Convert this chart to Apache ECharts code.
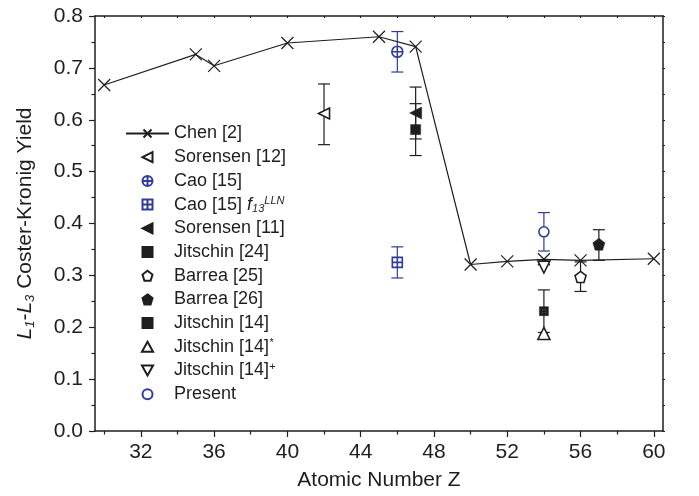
<!DOCTYPE html>
<html>
<head>
<meta charset="utf-8">
<script src="https://cdn.jsdelivr.net/npm/echarts@6/dist/echarts.min.js"></script>
<style>
  html, body { margin: 0; padding: 0; background: #fff; }
  #chart { width: 699px; height: 496px; }
</style>
</head>
<body>
<div id="chart"></div>
<script>
// data
const chenZ = [30, 35, 36, 40, 45, 47, 50, 52, 54, 56, 60]
const chenY = [0.667, 0.726, 0.704, 0.748, 0.760, 0.741, 0.321, 0.327, 0.331, 0.329, 0.332]

// [Z, value, low, high]
const sorensen12 = [[42, 0.612, 0.552, 0.669]]
const cao15 = [[46, 0.731, 0.692, 0.770]]
const cao15f13 = [[46, 0.325, 0.295, 0.355]]
const sorensen11 = [[47, 0.613, 0.563, 0.663]]
const jitschin24 = [[47, 0.581, 0.531, 0.631]]
const barrea25 = [[56, 0.297, 0.269, 0.326]]
const barrea26 = [[57, 0.360, 0.329, 0.388]]
const jitschin14 = [[54, 0.231, 0.190, 0.272]]
const jitschin14s = [[54, 0.188]]
const jitschin14p = [[54, 0.316]]
const present = [[54, 0.384, 0.347, 0.421]]

const xMajor = [32, 36, 40, 44, 48, 52, 56, 60]
const xMinor = [30, 34, 38, 42, 46, 50, 54, 58]
const xAll = [30, 32, 34, 36, 38, 40, 42, 44, 46, 48, 50, 52, 54, 56, 58, 60]

const BLACK = '#1e1e1e'
const BLUE = '#2f3c9c'
const FONT = 'Liberation Sans, Arial, sans-serif'

// symbols
const CROSS = 'path://M0,0L10,10M10,0L0,10'
const LEFT_TRI = 'path://M0,5L10,0L10,10Z'
const DOWN_TRI = 'path://M0,0L10,0L5,9Z'
const UP_TRI = 'path://M5,0L10,9L0,9Z'
const PENTA = 'path://M5,0L10,3.8L8.1,10L1.9,10L0,3.8Z'
const SQUARE = 'path://M0,0L10,0L10,10L0,10Z'
const CIRCLE_PLUS = 'path://M0,5A5,5,0,1,1,10,5A5,5,0,1,1,0,5ZM5,0L5,10M0,5L10,5'
const SQUARE_PLUS = 'path://M0,0L10,0L10,10L0,10ZM5,0L5,10M0,5L10,5'
const SQUARE_X = 'path://M0,0L10,0L10,10L0,10ZM3,3L3,4L4,4L4,3ZM6,3L6,4L7,4L7,3ZM3,6L3,7L4,7L4,6ZM6,6L6,7L7,7L7,6Z'

function pts(arr) {
  return arr.map(d => [d[0], d[1]])
}
function errs(arr) {
  return arr.filter(d => d.length > 2).map(d => [d[0], d[2], d[3]])
}

function renderErr(params, api) {
  const x = api.value(0)
  const lo = api.coord([x, api.value(1)])
  const hi = api.coord([x, api.value(2)])
  const w = 6
  const style = { stroke: api.visual('color'), lineWidth: 1.2 }
  return {
    type: 'group',
    children: [
      { type: 'line', shape: { x1: lo[0], y1: lo[1], x2: hi[0], y2: hi[1] }, style },
      { type: 'line', shape: { x1: lo[0] - w, y1: lo[1], x2: lo[0] + w, y2: lo[1] }, style },
      { type: 'line', shape: { x1: hi[0] - w, y1: hi[1], x2: hi[0] + w, y2: hi[1] }, style }
    ]
  }
}

function scatter(name, data, symbol, size, color, open) {
  return {
    name,
    type: 'scatter',
    data: pts(data),
    symbol,
    symbolSize: size,
    z: 5,
    itemStyle: open
      ? { color: '#fff', borderColor: color, borderWidth: 1.6, opacity: 1 }
      : { color: color, borderColor: color, borderWidth: 0.5, opacity: 1 }
  }
}

const blackErr = [].concat(errs(sorensen12), errs(sorensen11), errs(jitschin24),
  errs(barrea25), errs(barrea26), errs(jitschin14))
const blueErr = [].concat(errs(cao15), errs(cao15f13), errs(present))

const chart = echarts.init(document.getElementById('chart'))

const option = {
  animation: false,
  backgroundColor: '#fff',
  textStyle: { fontFamily: FONT },
  grid: { left: 95, right: 36, top: 16, bottom: 64 },
  legend: {
    orient: 'vertical',
    left: 120,
    top: 119,
    itemWidth: 43,
    itemHeight: 10,
    itemGap: 4.7,
    selectedMode: false,
    textStyle: {
      fontFamily: FONT,
      fontSize: 18,
      color: BLACK,
      lineHeight: 19,
      rich: {
        i: { fontFamily: FONT, fontSize: 18, fontStyle: 'italic', color: BLACK },
        sub: { fontFamily: FONT, fontSize: 11, fontStyle: 'italic', color: BLACK, verticalAlign: 'bottom', padding: [10, 0, 0, 0] },
        sup: { fontFamily: FONT, fontSize: 11, fontStyle: 'italic', color: BLACK, verticalAlign: 'top', padding: [0, 0, 10, 0] }
      }
    },
    formatter: function (name) {
      if (name === 'Cao [15] f13') return 'Cao [15] {i|f}{sub|13}{sup|LLN}'
      if (name === 'Jitschin [14]*') return 'Jitschin [14]{sup|*}'
      if (name === 'Jitschin [14]+') return 'Jitschin [14]{sup|+}'
      return name
    },
    data: ['Chen [2]', 'Sorensen [12]', 'Cao [15]', 'Cao [15] f13', 'Sorensen [11]',
      'Jitschin [24]', 'Barrea [25]', 'Barrea [26]', 'Jitschin [14]', 'Jitschin [14]*',
      'Jitschin [14]+', 'Present']
  },
  xAxis: [
    {
      type: 'value', min: 29.5, max: 60.5, position: 'bottom',
      name: 'Atomic Number Z', nameLocation: 'middle', nameGap: 39,
      nameTextStyle: { fontFamily: FONT, fontSize: 21, color: BLACK },
      axisLine: { onZero: false, lineStyle: { color: BLACK, width: 1.5 } },
      axisTick: { customValues: xMajor, length: 6, lineStyle: { color: BLACK, width: 1.2 } },
      axisLabel: { customValues: xMajor, fontFamily: FONT, fontSize: 21, color: BLACK, margin: 11 },
      splitLine: { show: false }
    },
    {
      type: 'value', min: 29.5, max: 60.5, position: 'bottom',
      axisLine: { show: false, onZero: false },
      axisTick: { customValues: xMinor, length: 3.5, lineStyle: { color: BLACK, width: 1.2 } },
      axisLabel: { show: false },
      splitLine: { show: false }
    },
    {
      type: 'value', min: 29.5, max: 60.5, position: 'top',
      axisLine: { onZero: false, lineStyle: { color: BLACK, width: 1.5 } },
      axisTick: { customValues: xAll, inside: true, length: 2, lineStyle: { color: BLACK, width: 1.2 } },
      axisLabel: { show: false },
      splitLine: { show: false }
    }
  ],
  yAxis: [
    {
      type: 'value', min: 0, max: 0.8, interval: 0.1, position: 'left',
      name: '{i|L}{sub|1}{n|-}{i|L}{sub|3}{n| Coster-Kronig Yield}',
      nameLocation: 'middle', nameGap: 58, nameRotate: 90,
      nameTextStyle: {
        fontFamily: FONT, fontSize: 21, color: BLACK,
        rich: {
          n: { fontFamily: FONT, fontSize: 21, color: BLACK },
          i: { fontFamily: FONT, fontSize: 21, fontStyle: 'italic', color: BLACK },
          sub: { fontFamily: FONT, fontSize: 13, fontStyle: 'italic', color: BLACK, verticalAlign: 'bottom', padding: [10, 0, 0, 0] }
        }
      },
      axisLine: { onZero: false, lineStyle: { color: BLACK, width: 1.5 } },
      axisTick: { length: 6, lineStyle: { color: BLACK, width: 1.2 } },
      minorTick: { show: true, splitNumber: 2, length: 3.5, lineStyle: { color: BLACK, width: 1.2 } },
      axisLabel: { fontFamily: FONT, fontSize: 21, color: BLACK, margin: 12, formatter: v => v.toFixed(1) },
      splitLine: { show: false }
    },
    {
      type: 'value', min: 0, max: 0.8, interval: 0.05, position: 'right',
      axisLine: { onZero: false, lineStyle: { color: BLACK, width: 1.5 } },
      axisTick: { length: 2, lineStyle: { color: BLACK, width: 1.2 } },
      axisLabel: { show: false },
      splitLine: { show: false }
    }
  ],
  series: [
    {
      name: 'Chen [2]',
      type: 'line',
      data: chenZ.map((z, i) => [z, chenY[i]]),
      symbol: CROSS,
      symbolSize: 12,
      z: 4,
      lineStyle: { color: BLACK, width: 1.2 },
      itemStyle: { color: 'none', borderColor: BLACK, borderWidth: 1.2 }
    },
    { type: 'custom', renderItem: renderErr, data: blackErr, itemStyle: { color: BLACK }, z: 3, silent: true },
    { type: 'custom', renderItem: renderErr, data: blueErr, itemStyle: { color: BLUE }, z: 3, silent: true },
    scatter('Sorensen [12]', sorensen12, LEFT_TRI, 11, BLACK, true),
    scatter('Cao [15]', cao15, CIRCLE_PLUS, 11, BLUE, true),
    scatter('Cao [15] f13', cao15f13, SQUARE_PLUS, 10, BLUE, true),
    scatter('Sorensen [11]', sorensen11, LEFT_TRI, 12, BLACK, false),
    scatter('Jitschin [24]', jitschin24, SQUARE, 10, BLACK, false),
    scatter('Barrea [25]', barrea25, PENTA, 11, BLACK, true),
    scatter('Barrea [26]', barrea26, PENTA, 12, BLACK, false),
    scatter('Jitschin [14]', jitschin14, SQUARE_X, 9, BLACK, false),
    scatter('Jitschin [14]*', jitschin14s, UP_TRI, 12, BLACK, true),
    scatter('Jitschin [14]+', jitschin14p, DOWN_TRI, 12, BLACK, true),
    scatter('Present', present, 'circle', 10, BLUE, true)
  ]
}

chart.setOption(option)
</script>
</body>
</html>
